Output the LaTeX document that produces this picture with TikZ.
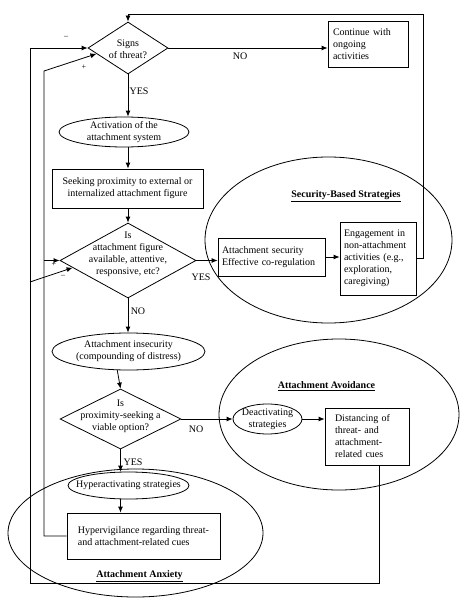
\documentclass[tikz,border=0pt]{standalone}
\usepackage{fontspec}
\setmainfont{Liberation Serif}
\usetikzlibrary{shapes.geometric,arrows.meta,calc}
\begin{document}
\begin{tikzpicture}[x=1pt,y=-1pt,
  every node/.style={font=\fontsize{10}{12}\selectfont, inner sep=0pt},
  line/.style={draw=black, line width=0.8pt},
  arr/.style={line, -{Latex[length=6pt,width=5pt]}},
  dia/.style={draw, line width=0.8pt, diamond, inner sep=0pt},
  ell/.style={draw, line width=0.8pt, ellipse, inner sep=0pt},
  box/.style={draw, line width=0.8pt, rectangle},
  grp/.style={font=\fontsize{10}{12}\selectfont\bfseries},
  sgn/.style={font=\fontsize{8}{10}\selectfont},
]
\useasboundingbox (0,0) rectangle (476,602);
\fill[white] (0,0) rectangle (476,602);

% top decision
\node[dia, minimum width=80pt, minimum height=52pt] (d1) at (128,48) {};
\node[align=center] (d1t) at (128,49.5) {Signs\\of threat?};
\node[box, minimum width=80pt, minimum height=46pt, text width=70pt, inner xsep=5pt, align=left] (cont) at (368,44) {Continue with\\ongoing\\activities};

\node[ell, minimum width=130pt, minimum height=30pt] (act) at (124,132) {};
\node[align=center] (actt) at (act) {Activation of the\\attachment system};

\node[box, minimum width=151pt, minimum height=39pt, align=center] (seek) at (127.5,188.5) {Seeking proximity to external or\\internalized attachment figure};

\node[dia, minimum width=136pt, minimum height=75pt] (d2) at (128,260.5) {};
\node[align=center] (d2t) at (128,254) {Is\\attachment figure\\available, attentive,\\responsive, etc?};

% security group
\node[ell, minimum width=247pt, minimum height=166pt] (gsec) at (328.5,240) {};
\node[grp] (gsect) at (346,196) {\underline{Security-Based Strategies}};
\node[box, minimum width=107pt, minimum height=38pt, text width=99pt, inner xsep=4pt, align=left] (sec) at (271.5,257) {Attachment security\\Effective co-regulation};
\node[box, minimum width=76pt, minimum height=73pt, text width=68pt, inner xsep=4pt, align=left] (eng) at (378,258.5) {Engagement in\\non-attachment\\activities (e.g.,\\exploration,\\caregiving)};

\node[ell, minimum width=153pt, minimum height=37pt] (ins) at (128.5,351.5) {};
\node[align=center] (inst) at (ins) {Attachment insecurity\\(compounding of distress)};

\node[dia, minimum width=121pt, minimum height=60pt] (d3) at (120.5,419) {};
\node[align=center] (d3t) at (120.5,416) {Is\\proximity-seeking a\\viable option?};

% avoidance group
\node[ell, minimum width=240pt, minimum height=151pt] (gavo) at (339,414.5) {};
\node[grp] (gavot) at (326.5,386) {\underline{Attachment Avoidance}};
\node[ell, minimum width=69pt, minimum height=30pt] (deact) at (267.5,419) {};
\node[align=center] (deactt) at (deact) {Deactivating\\strategies};
\node[box, minimum width=84pt, minimum height=57pt, text width=64pt, inner xsep=10pt, align=left] (dist) at (367,436.5) {Distancing of\\threat- and\\attachment-\\related cues};

% anxiety group
\node[ell, minimum width=255pt, minimum height=128pt] (ganx) at (135.5,533) {};
\node[grp] (ganxt) at (139.5,576) {\underline{Attachment Anxiety}};
\node[ell, minimum width=121pt, minimum height=27pt] (hyp) at (128.5,485.5) {};
\node (hypt) at (hyp) {Hyperactivating strategies};
\node[box, minimum width=153pt, minimum height=46pt, align=left] (vig) at (143.5,536) {Hypervigilance regarding threat-\\and attachment-related cues};

% main flow
\draw[arr] (d1.east) -- (d1.east -| cont.west);
\node (noA) at (240,56) {NO};
\draw[arr] (d1.south) -- (d1.south |- act.north);
\node (yesA) at (139,91) {YES};
\draw[arr] (act.south -| d1.south) -- (d1.south |- seek.north);
\draw[arr] (seek.south -| d2.north) -- (d2.north);
\draw[arr] (d2.east) -- (d2.east -| sec.west);
\node (yesB) at (201,277) {YES};
\draw[arr] (sec.east) -- (sec.east -| eng.west);
\coordinate (rr) at (423,14);
\draw[arr] (eng.east) -- (eng.east -| rr) |- (d1.north |- rr) -- (d1.north);
\draw[arr] (d2.south) -- (d2.south |- ins.north);
\node (noB) at (138,311) {NO};
\draw[arr] (ins.239) -- (d3.north);
\draw[arr] (d3.east) -- (deact.west);
\node (noC) at (196,429) {NO};
\draw[arr] (deact.east) -- (deact.east -| dist.west);
\draw[arr] (d3.south) -- (d3.south |- hyp.north);
\node (yesC) at (133,462) {YES};
\draw[arr] (hyp.south -| d3.south) -- (d3.south |- vig.north);

% feedback loops
\coordinate (oL) at (30,583);
\coordinate (oM) at (30,282);
\draw[arr] ($(dist.south)+(12,0)$) |- (oL) |- (d1.west);
\draw[arr] (oM) -- ($(d2.west)!0.19!(d2.south)$);
\coordinate (iT) at (44,71);
\draw[arr] (vig.west) -| (iT) -- ($(d1.west)!0.22!(d1.south)$);
\draw[arr] (d2.west -| iT) -- (d2.west);

\node[sgn] (m1) at (66,37) {--};
\node[sgn] (p1) at (84,67) {+};
\node[sgn] (p2) at (54,264) {+};
\node[sgn] (m2) at (63,276) {--};
\end{tikzpicture}
\end{document}
